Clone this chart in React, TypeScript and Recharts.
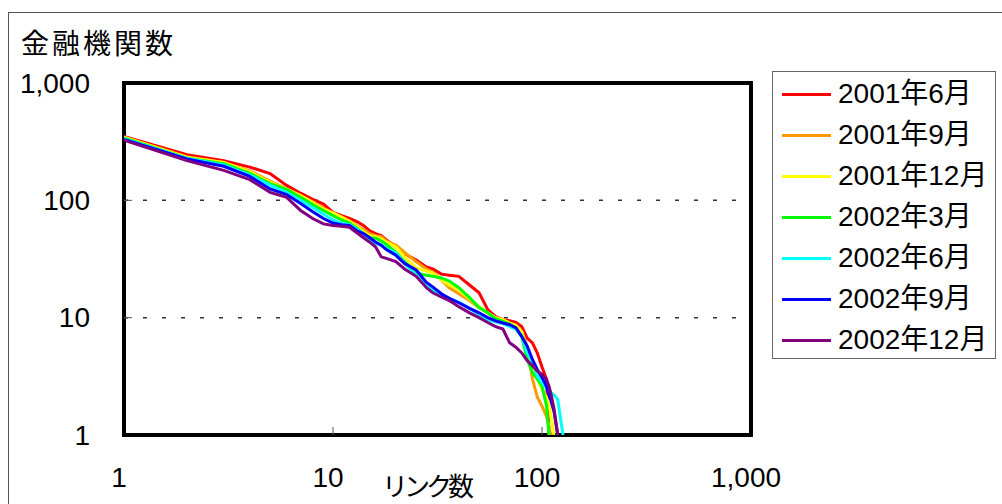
import {
  LineChart,
  Line,
  XAxis,
  YAxis,
  ReferenceLine,
  ReferenceArea,
} from "recharts";

// number of links (x), shared by all series
const links = [
  1, 2, 3, 4, 5, 6, 7, 8, 9, 10, 11, 12, 13, 14, 15, 16, 17, 18, 20, 22, 25,
  28, 30, 33, 36, 40, 45, 50, 55, 60, 65, 70, 75, 80, 85, 90, 95, 100, 105,
  108, 110, 114, 119, 126,
];

// number of institutions (y), one array per survey date
const jun2001 = [
  350, 245, 218, 192, 169, 134, 115, 102, 93, 79, 74, 70, 66, 61, 55, 52, 50,
  46, 40, 35, 31, 27, 26, 23.5, 23, 22.5, 19, 16.3, 11.7, 10.2, 9.6, 9.4, 9.1,
  8.4, 6.7, 6.1, 5.0, 3.8, 3.0, 1, null, null, null, null,
];
const sep2001 = [
  345, 235, 210, 178, 146, 125, 110, 97, 86, 78, 72, 67, 61, 56, 52, 50, 49,
  45, 41.5, 36, 30, 26, 24.5, 21, 18, 16, 14, 12.2, 11, 10, 9.5, 9.0, 8.6, 7.6,
  5.7, 3.0, 2.1, 1.76, 1.45, 1.2, 1, null, null, null,
];
const dec2001 = [
  345, 232, 210, 175, 142, 124, 110, 96, 84, 78, 72, 66, 60, 54, 50, 49, 47,
  44, 40, 33, 26.5, 25, 24, 21, 19, 17.3, 14.5, 12.4, 11, 10, 9.6, 9.0, 8.6,
  7.6, 5.0, 3.8, 3.0, 2.45, 2.1, 1.8, 1.5, 1, null, null,
];
const mar2002 = [
  340, 228, 205, 170, 139, 124, 106, 92, 82, 74, 68, 64, 58, 52, 48, 47.5, 45,
  42, 36, 30, 24, 23, 22.5, 21.8, 20.5, 18, 14.8, 12.2, 11, 9.8, 9.3, 8.8, 8.0,
  6.9, 4.4, 3.4, 3.0, 2.6, 1.8, 1, null, null, null, null,
];
const jun2002 = [
  335, 228, 200, 165, 135, 117, 100, 87, 76, 68, 64, 62, 57, 52, 46, 43, 41.5,
  39, 35.5, 29, 23, 19.5, 17.3, 15.5, 14.6, 13.6, 12, 10.6, 9.6, 9.2, 8.9, 8.4,
  8.0, 7.0, 5.0, 4.2, 3.2, 2.8, 2.5, 2.4, 2.3, 2.2, 2.0, 1,
];
const sep2002 = [
  330, 225, 195, 160, 125, 112, 94, 80, 70, 64, 62, 61, 55, 52, 48, 44, 41.5,
  38, 34, 29, 25.5, 20, 18.3, 16, 14.6, 13.4, 12, 11, 10, 9.4, 9.0, 8.7, 8.2,
  6.9, 5.7, 4.4, 3.6, 3.1, 2.6, 2.2, 2.0, 1.6, 1, null,
];
const dec2002 = [
  325, 218, 180, 150, 117, 106, 82, 70, 63, 61, 60, 59, 53, 48, 44, 40, 33, 32,
  30, 26, 22.5, 18, 16.3, 15, 14, 12.4, 11, 10, 9.1, 8.4, 8.0, 6.1, 5.6, 5.0,
  4.3, 3.9, 3.5, 3.3, 3.0, 2.6, 2.3, 1.7, 1, null,
];

const axisTicks = [1, 10, 100, 1000];

const SERIES = [
  { key: "jun2001", label: "2001年6月", color: "#FF0000", values: jun2001 },
  { key: "sep2001", label: "2001年9月", color: "#FF9900", values: sep2001 },
  { key: "dec2001", label: "2001年12月", color: "#FFFF00", values: dec2001 },
  { key: "mar2002", label: "2002年3月", color: "#00FF00", values: mar2002 },
  { key: "jun2002", label: "2002年6月", color: "#00FFFF", values: jun2002 },
  { key: "sep2002", label: "2002年9月", color: "#0000FF", values: sep2002 },
  { key: "dec2002", label: "2002年12月", color: "#800080", values: dec2002 },
];

const data = links.map((x, i) => {
  const row: Record<string, number | null> = { links: x };
  SERIES.forEach((s) => {
    row[s.key] = s.values[i] ?? null;
  });
  return row;
});

const FONT = "Liberation Sans";
const CJK = "Liberation Sans, Noto Sans CJK JP";
const fmt = (v: number) => v.toLocaleString("en-US");

function XTick({ x, y, payload }: any) {
  const v = payload.value;
  return (
    <g>
      {v > 1 && v < 1000 && (
        <line x1={x} x2={x} y1={y - 8} y2={y} stroke="#555" strokeWidth={1} />
      )}
      <text
        x={x - 5}
        y={y + 42}
        textAnchor="middle"
        dominantBaseline="central"
        fontSize={28}
        style={{ fontFamily: "Arial" }}
        fill="#000"
      >
        {fmt(v)}
      </text>
    </g>
  );
}

function YTick({ x, y, payload }: any) {
  const v = payload.value;
  return (
    <g>
      {v > 1 && v < 1000 && (
        <line x1={x} x2={x + 8} y1={y} y2={y} stroke="#555" strokeWidth={1} />
      )}
      <text
        x={x - 34}
        y={y}
        textAnchor="end"
        dominantBaseline="central"
        fontSize={28}
        style={{ fontFamily: FONT }}
        fill="#000"
      >
        {fmt(v)}
      </text>
    </g>
  );
}

export default function App() {
  return (
    <div
      style={{
        position: "absolute",
        left: 0,
        top: 0,
        width: 1002,
        height: 504,
        overflow: "hidden",
        background: "#fff",
        fontFamily: CJK,
      }}
    >
      <div
        style={{
          position: "absolute",
          left: 8,
          top: 12,
          width: 1100,
          height: 600,
          border: "1.5px solid #555",
        }}
      />
      <LineChart
        width={1002}
        height={504}
        data={data}
        margin={{ top: 83, right: 251, bottom: 19, left: 24 }}
        style={{ position: "absolute", left: 0, top: 0 }}
      >
        <XAxis
          dataKey="links"
          type="number"
          scale="log"
          domain={[1, 1000]}
          ticks={axisTicks}
          interval={0}
          allowDataOverflow
          axisLine={false}
          tickLine={false}
          tickSize={0}
          tickMargin={0}
          height={50}
          tick={<XTick />}
        />
        <YAxis
          type="number"
          scale="log"
          domain={[1, 1000]}
          ticks={axisTicks}
          interval={0}
          allowDataOverflow
          axisLine={false}
          tickLine={false}
          tickSize={0}
          tickMargin={0}
          width={100}
          tick={<YTick />}
        />
        <ReferenceLine y={100} stroke="#333" strokeWidth={1.5} strokeDasharray="4 15" />
        <ReferenceLine y={10} stroke="#333" strokeWidth={1.5} strokeDasharray="4 15" />
        {SERIES.map((s) => (
          <Line
            key={s.key}
            dataKey={s.key}
            name={s.label}
            type="linear"
            stroke={s.color}
            strokeWidth={3}
            dot={false}
            activeDot={false}
            connectNulls={false}
            isAnimationActive={false}
          />
        ))}
        <ReferenceArea
          x1={1}
          x2={1000}
          y1={1}
          y2={1000}
          fill="none"
          fillOpacity={0}
          stroke="#000"
          strokeWidth={4}
          ifOverflow="visible"
        />
      </LineChart>
      <div
        style={{
          position: "absolute",
          left: 21,
          top: 30,
          fontSize: 28,
          lineHeight: "30px",
          letterSpacing: 3,
          color: "#000",
        }}
      >
        金融機関数
      </div>
      <div
        style={{
          position: "absolute",
          left: 382,
          top: 472,
          fontSize: 26,
          lineHeight: "30px",
          letterSpacing: -4,
          color: "#000",
        }}
      >
        リンク数
      </div>
      <div
        style={{
          position: "absolute",
          left: 772,
          top: 71,
          width: 222,
          height: 286,
          border: "1px solid #666",
          background: "#fff",
        }}
      >
        {SERIES.map((s, i) => (
          <div
            key={s.key}
            style={{
              position: "absolute",
              left: 9,
              top: 22 + i * 41 - 15,
              height: 30,
              display: "flex",
              alignItems: "center",
              whiteSpace: "nowrap",
            }}
          >
            <div style={{ width: 49, height: 3, background: s.color }} />
            <span style={{ marginLeft: 7, fontSize: 28, lineHeight: "30px", color: "#000" }}>
              {s.label}
            </span>
          </div>
        ))}
      </div>
    </div>
  );
}
